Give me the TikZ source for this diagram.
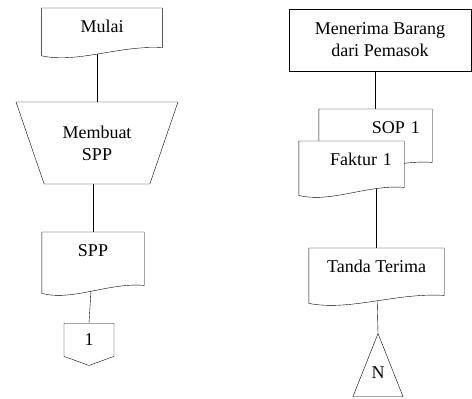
\documentclass[tikz,border=0pt]{standalone}
\usepackage{fontspec}
\setmainfont{Liberation Serif}
\usetikzlibrary{calc,shapes.geometric,shapes.symbols}
\pgfdeclarelayer{background}
\pgfdeclarelayer{shapes}
\pgfsetlayers{background,shapes,main}

% outline of a document symbol round a (borderless) node
\newcommand{\docwave}[1]{%
  \begin{pgfonlayer}{shapes}
    \draw[fill=white] (#1.north west) -- (#1.north east) -- (#1.south east)
      .. controls ($(#1.south west)!0.65!(#1.south east)+(0,-3)$)
      and ($(#1.south west)!0.3!(#1.south east)+(0,16)$)
      .. ($(#1.south west)+(0,8)$) -- cycle;
  \end{pgfonlayer}}

\tikzset{
  docbox/.style={anchor=north, inner xsep=12pt, inner ysep=12pt,
    text height=12pt, text depth=#1},
}

\begin{document}
\begin{tikzpicture}[x=1pt,y=-1pt,line width=0.8pt,
    font=\fontsize{18}{22}\selectfont]
  \useasboundingbox (0,0) rectangle (472,399);

  % left column
  \node[docbox=3pt, minimum width=120pt] (mulai) at (102,8) {Mulai};
  \docwave{mulai}
  \node[draw, fill=white, trapezium, trapezium stretches=true,
    trapezium left angle=64, trapezium right angle=64,
    shape border rotate=180, minimum width=162pt, minimum height=82pt,
    align=center] (buat) at (97,143) {Membuat\\SPP};
  \node[docbox=17pt, minimum width=102pt] (spp) at (93,232) {SPP};
  \docwave{spp}
  \node[draw, fill=white, signal, signal to=south, signal pointer angle=140,
    minimum width=50pt, minimum height=36pt, anchor=north] (hal1) at (89,323) {1};

  % right column
  \node[draw, fill=white, minimum width=182pt, minimum height=62pt, align=center]
    (terima) at (380,40) {Menerima Barang\\dari Pemasok};
  \node[docbox=17pt, text width=89pt, align=right] (sop) at (375.5,109) {SOP 1};
  \docwave{sop}
  \node[docbox=10pt, text width=81pt, align=right] (faktur) at (351.5,141) {Faktur 1};
  \docwave{faktur}
  \node[docbox=11pt, minimum width=135pt] (tanda) at (376.5,248) {Tanda Terima};
  \docwave{tanda}
  \node[draw, fill=white, isosceles triangle, isosceles triangle stretches,
    shape border rotate=90, minimum width=50pt, minimum height=63pt,
    inner sep=0pt, anchor=apex] (arsip) at (378,333) {};
  \node (arsipN) at ($(arsip.apex)+(0,40)$) {N};

  % connectors
  \begin{pgfonlayer}{background}
    \draw (buat.north |- mulai.center) -- (buat.north);
    \draw (spp.north |- buat.center) -- (spp.north);
    \draw (spp.center) -- (hal1.north);
    \draw (sop.north |- terima.center) -- (sop.north);
    \draw (tanda.north |- faktur.center) -- (tanda.north);
    \draw (tanda.center) -- (arsip.apex);
  \end{pgfonlayer}
\end{tikzpicture}
\end{document}
